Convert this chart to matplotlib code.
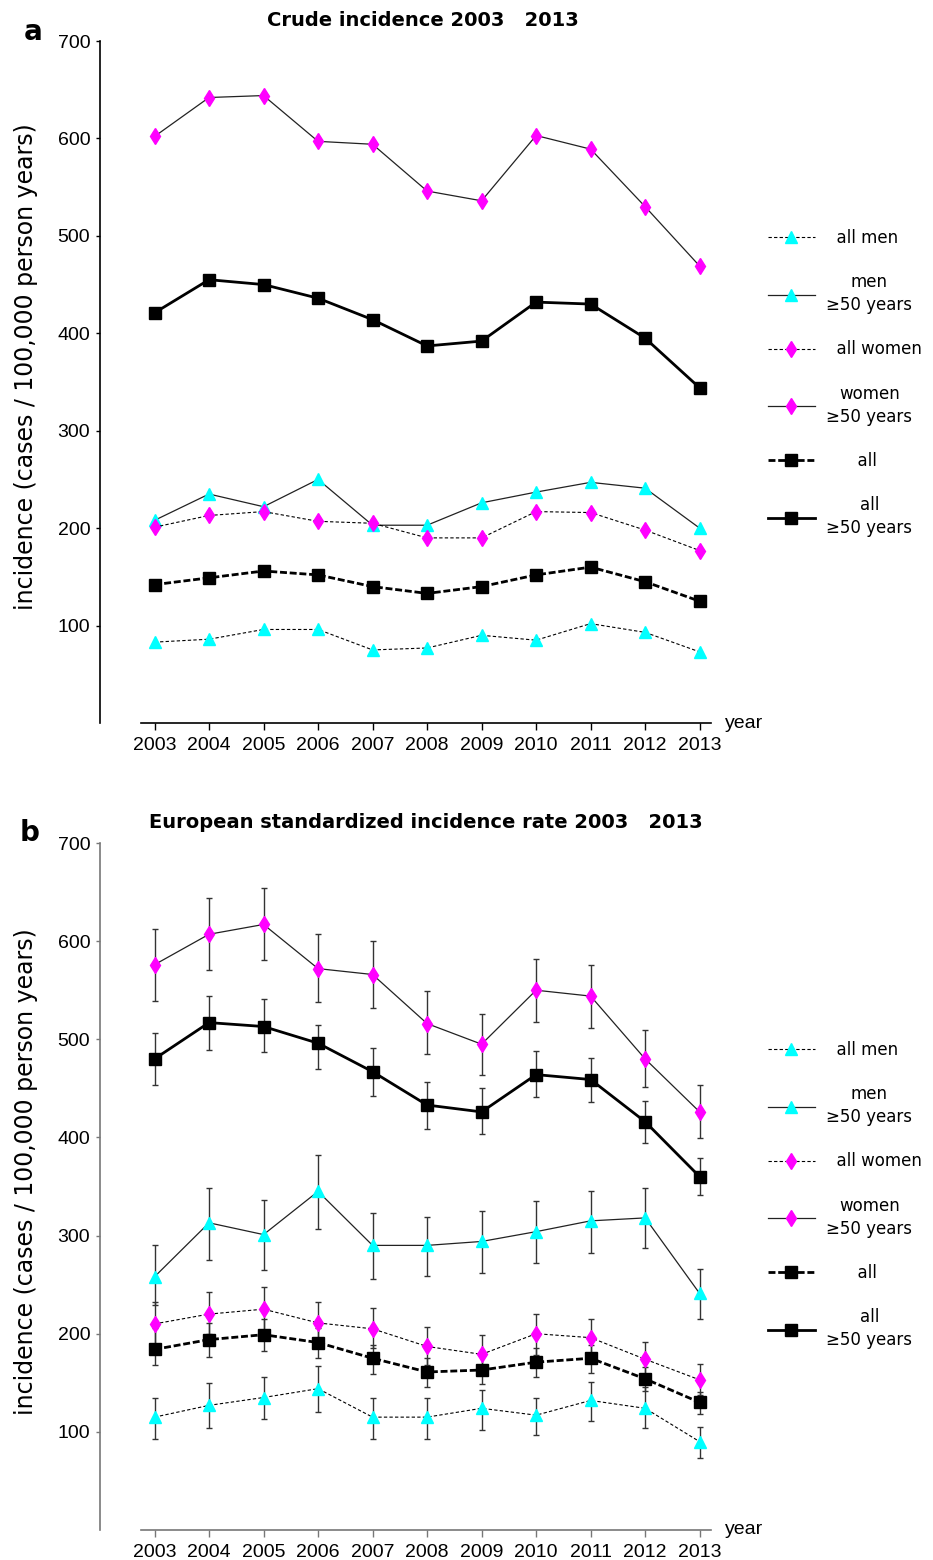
import numpy as np
import matplotlib
matplotlib.use("Agg")
import matplotlib.pyplot as plt
from matplotlib.lines import Line2D

years = list(range(2003, 2014))
# leading spaces roughly centre the one-line labels under the two-line ones
labels = ["  all men", "men\n\u226550 years", "  all women", "women\n\u226550 years",
          "      all", "all\n\u226550 years"]

# panel a: crude incidence
crude_all_men = [83, 86, 96, 96, 75, 77, 90, 85, 102, 93, 73]
crude_men50 = [208, 235, 222, 250, 203, 203, 226, 237, 247, 241, 200]
crude_all_women = [201, 213, 217, 207, 205, 190, 190, 217, 216, 198, 177]
crude_women50 = [602, 642, 644, 597, 594, 546, 536, 603, 589, 530, 469]
crude_all = [142, 149, 156, 152, 140, 133, 140, 152, 160, 145, 125]
crude_all50 = [421, 455, 450, 436, 414, 387, 392, 432, 430, 395, 344]

# panel b: european standardized rate with 95% CI
esr_all_men = [115, 127, 135, 144, 115, 115, 124, 117, 132, 124, 90]
esr_all_men_hi = [134, 150, 156, 167, 135, 135, 143, 135, 151, 146, 105]
esr_all_men_lo = [93, 104, 113, 120, 93, 93, 102, 97, 111, 104, 73]
esr_men50 = [258, 313, 301, 345, 290, 290, 294, 304, 315, 318, 241]
esr_men50_hi = [290, 348, 336, 382, 323, 319, 325, 335, 345, 348, 266]
esr_men50_lo = [229, 275, 265, 307, 256, 259, 262, 272, 282, 287, 215]
esr_all_women = [210, 220, 225, 211, 205, 187, 179, 200, 196, 174, 153]
esr_all_women_hi = [232, 242, 248, 232, 226, 207, 199, 220, 215, 192, 169]
esr_all_women_lo = [188, 200, 204, 190, 185, 168, 161, 178, 176, 156, 138]
esr_women50 = [576, 607, 617, 572, 566, 516, 495, 550, 544, 480, 426]
esr_women50_hi = [612, 644, 654, 607, 600, 549, 526, 582, 576, 509, 453]
esr_women50_lo = [539, 571, 581, 538, 532, 485, 464, 518, 512, 451, 399]
esr_all = [184, 194, 199, 191, 175, 161, 163, 171, 175, 154, 130]
esr_all_hi = [206, 211, 215, 206, 189, 175, 177, 185, 188, 166, 141]
esr_all_lo = [168, 176, 182, 175, 159, 146, 149, 156, 160, 142, 118]
esr_all50 = [480, 517, 513, 496, 467, 433, 426, 464, 459, 416, 360]
esr_all50_hi = [506, 544, 541, 515, 491, 456, 450, 488, 481, 437, 379]
esr_all50_lo = [453, 489, 487, 470, 442, 409, 404, 441, 436, 394, 341]

# line styles for the 6 series (same order as labels)
styles = [
    dict(color="black", lw=0.8, ls=(0, (3, 2)), marker="^", mfc="#00FFFF", mec="#00FFFF", ms=8),
    dict(color="#222222", lw=0.9, ls="-", marker="^", mfc="#00FFFF", mec="#00FFFF", ms=8),
    dict(color="black", lw=0.8, ls=(0, (3, 2)), marker="d", mfc="#FF00FF", mec="#FF00FF", ms=8),
    dict(color="#222222", lw=0.9, ls="-", marker="d", mfc="#FF00FF", mec="#FF00FF", ms=8),
    dict(color="black", lw=2.0, ls=(0, (2.5, 1)), marker="s", mfc="black", mec="black", ms=8.7),
    dict(color="black", lw=2.0, ls="-", marker="s", mfc="black", mec="black", ms=8.7),
]

fig = plt.figure(figsize=(9.33, 15.6), dpi=100)
tick_font = "Liberation Sans"


def setup_axes(ax, spine_color):
    ax.set_xlim(2002, 2013.3)
    ax.set_ylim(0, 700)
    ax.spines["top"].set_visible(False)
    ax.spines["right"].set_visible(False)
    ax.spines["bottom"].set_bounds(2002.75, 2013.2)
    for s in ["left", "bottom"]:
        ax.spines[s].set_color(spine_color)
        ax.spines[s].set_linewidth(1.2)
    ax.set_xticks(years)
    ax.set_xticklabels([str(y) for y in years], fontsize=14, family=tick_font)
    ax.set_yticks(range(100, 800, 100))
    ax.set_yticklabels([str(v) for v in range(100, 800, 100)], fontsize=14, family=tick_font)
    ax.tick_params(axis="x", length=5, width=1, pad=5, color=spine_color)
    ax.tick_params(axis="y", length=3, width=1, pad=4, color=spine_color)
    ax.set_ylabel("incidence (cases / 100,000 person years)", fontsize=17, family="DejaVu Sans")
    ax.yaxis.set_label_coords(-0.10, 0.522)
    ax.text(1.015, 0.0, "year", transform=ax.transAxes, fontsize=14, family=tick_font,
            ha="left", va="center")


def add_legend(ax, y_center):
    handles = [Line2D([], [], **st) for st in styles]
    leg = ax.legend(handles, labels, loc="center left", bbox_to_anchor=(0.823, y_center),
                    bbox_transform=fig.transFigure, frameon=False, fontsize=12,
                    handlelength=2.8, handletextpad=0.7, labelspacing=1.58,
                    borderpad=0, borderaxespad=0)
    for t in leg.get_texts():
        t.set_multialignment("center")
        t.set_linespacing(1.35)
        t.set_family("DejaVu Sans")


# ---- panel a
ax1 = fig.add_axes([100 / 933, 1 - 723 / 1560, 616 / 933, 682 / 1560])
crude = [crude_all_men, crude_men50, crude_all_women, crude_women50, crude_all, crude_all50]
for vals, st in zip(crude, styles):
    ax1.plot(years, vals, clip_on=False, **st)
setup_axes(ax1, "black")
add_legend(ax1, 1 - 383 / 1560)
fig.text(423 / 933, 1 - 20 / 1560, "Crude incidence 2003   2013", ha="center", va="center",
         fontsize=14, fontweight="bold", family="DejaVu Sans")
fig.text(33 / 933, 1 - 32 / 1560, "a", ha="center", va="center", fontsize=20, fontweight="bold")

# ---- panel b
ax2 = fig.add_axes([100 / 933, 1 - 1530 / 1560, 616 / 933, 687 / 1560])
esr = [
    (esr_all_men, esr_all_men_lo, esr_all_men_hi),
    (esr_men50, esr_men50_lo, esr_men50_hi),
    (esr_all_women, esr_all_women_lo, esr_all_women_hi),
    (esr_women50, esr_women50_lo, esr_women50_hi),
    (esr_all, esr_all_lo, esr_all_hi),
    (esr_all50, esr_all50_lo, esr_all50_hi),
]
for (vals, lo, hi), st in zip(esr, styles):
    v = np.array(vals)
    yerr = [v - np.array(lo), np.array(hi) - v]
    ax2.errorbar(years, v, yerr=yerr, ecolor="#333333", elinewidth=1.0, capsize=2.5,
                 capthick=1.0, clip_on=False, **st)
setup_axes(ax2, "#777777")
add_legend(ax2, 1 - 1195 / 1560)
fig.text(426 / 933, 1 - 822 / 1560, "European standardized incidence rate 2003   2013",
         ha="center", va="center", fontsize=14, fontweight="bold", family="DejaVu Sans")
fig.text(30 / 933, 1 - 833 / 1560, "b", ha="center", va="center", fontsize=20, fontweight="bold")

fig.savefig("out.png", dpi=100)
